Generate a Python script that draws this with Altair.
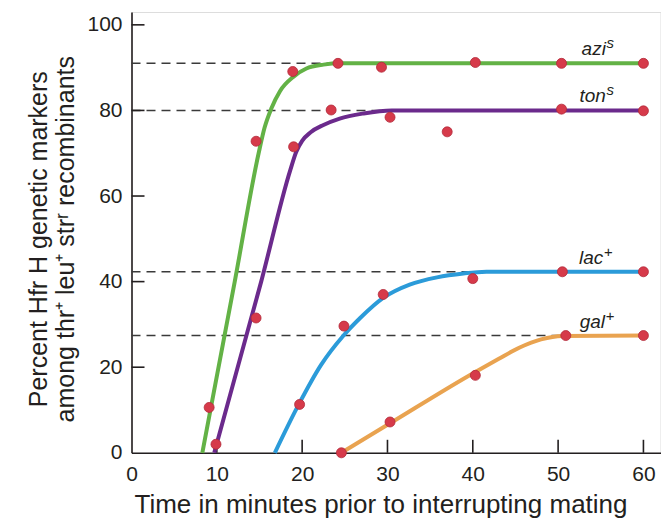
import altair as alt
import pandas as pd

# ---- data ----
series = ["azi", "ton", "lac", "gal"]
series_colors = ["#63b246", "#6b2a8c", "#2b9bd9", "#e9a350"]

# measured points (minutes, percent)
azi_px = [9.1, 14.6, 18.9, 24.2, 29.3, 40.3, 50.4, 60.0]
azi_py = [10.6, 72.8, 89.1, 91.0, 90.1, 91.2, 91.0, 91.0]
ton_px = [9.9, 14.6, 19.0, 23.4, 30.3, 37.0, 50.4, 60.0]
ton_py = [2.0, 31.5, 71.5, 80.1, 78.4, 75.0, 80.3, 79.9]
lac_px = [19.7, 24.9, 29.5, 40.0, 50.5, 60.0]
lac_py = [11.3, 29.6, 37.0, 40.7, 42.3, 42.3]
gal_px = [24.6, 30.3, 40.3, 50.9, 60.0]
gal_py = [0.0, 7.2, 18.1, 27.4, 27.4]

# fitted curves
azi_cx = [8.3, 12.1, 14.9, 15.6, 16.4, 17.4, 19.0, 20.5, 22.5, 24.5, 60.0]
azi_cy = [0.0, 40.0, 70.0, 76.0, 80.5, 84.5, 87.9, 89.8, 90.7, 91.0, 91.0]
ton_cx = [9.7, 15.2, 18.6, 19.3, 20.0, 21.0, 22.5, 24.4, 27.2, 30.5, 60.0]
ton_cy = [0.0, 40.0, 66.0, 70.3, 72.9, 74.9, 76.6, 78.1, 79.3, 80.0, 80.0]
lac_cx = [16.8, 19.6, 22.2, 24.8, 26.8, 29.5, 32.6, 35.8, 38.9, 41.6, 60.0]
lac_cy = [0.0, 11.3, 20.5, 27.3, 31.5, 36.2, 39.3, 41.0, 41.9, 42.3, 42.3]
gal_cx = [24.6, 30.3, 40.3, 43.0, 45.5, 48.0, 50.5, 60.0]
gal_cy = [0.0, 6.9, 18.9, 21.9, 24.6, 26.5, 27.3, 27.4]

# reference (dashed) levels
dash_y = [91.0, 80.0, 42.3, 27.4]
dash_end = [24.5, 30.5, 41.0, 50.5]

# curve labels
label_base = ["azi", "ton", "lac", "gal"]
label_sup = ["s", "s", "+", "+"]
label_x = [55.6, 55.6, 55.3, 55.5]

x_ticks = [0, 10, 20, 30, 40, 50, 60]
y_ticks = [0, 20, 40, 60, 80, 100]

# ---- tables ----
pts = pd.concat([
    pd.DataFrame({"s": n, "x": xs, "y": ys})
    for n, xs, ys in zip(series, [azi_px, ton_px, lac_px, gal_px], [azi_py, ton_py, lac_py, gal_py])
])
curves = pd.concat([
    pd.DataFrame({"s": n, "x": xs, "y": ys, "o": range(len(xs))})
    for n, xs, ys in zip(series, [azi_cx, ton_cx, lac_cx, gal_cx], [azi_cy, ton_cy, lac_cy, gal_cy])
])
dashes = pd.DataFrame({"y": dash_y, "x0": [0] * 4, "x1": dash_end})
labels = pd.DataFrame({"x": label_x, "y": dash_y, "base": label_base, "sup": label_sup})
xt = pd.DataFrame({"v": x_ticks[1:]})
yt = pd.DataFrame({"v": y_ticks[1:]})

W, H = 529, 440.8
FONT = "Liberation Sans"
INK = "#231f20"

xscale = alt.Scale(domain=[0, 62], nice=False, zero=False)
yscale = alt.Scale(domain=[0, 103], nice=False)

xaxis = alt.Axis(values=x_ticks, ticks=False, tickSize=0, grid=False, labelFlush=False,
                 labelFontSize=21, labelPadding=11, labelFont=FONT, labelColor=INK,
                 domainColor=INK, domainWidth=1.6,
                 title="Time in minutes prior to interrupting mating",
                 titleFont=FONT, titleFontSize=26, titleFontWeight="normal", titleColor=INK,
                 titleX=249, titleY=39, titleBaseline="top", titleAlign="center")
yaxis = alt.Axis(values=y_ticks, ticks=False, tickSize=0, grid=False,
                 labelFontSize=21, labelPadding=9.5, labelFont=FONT, labelColor=INK,
                 domainColor=INK, domainWidth=1.6,
                 title=["Percent Hfr H genetic markers", "among thr\u207a leu\u207a str\u02b3 recombinants"],
                 titleFont=FONT, titleFontSize=25, titleFontWeight="normal", titleColor=INK,
                 titleAngle=270, titleAlign="center", titleBaseline="alphabetic",
                 titleX=-84.8, titleY=226.7, titleLineHeight=26.6)

base_x = alt.X("x:Q", scale=xscale, axis=xaxis)
base_y = alt.Y("y:Q", scale=yscale, axis=yaxis)

dash_layer = alt.Chart(dashes).mark_rule(color="#3a3a3a", strokeWidth=1.5, strokeDash=[9, 6]).encode(
    x=alt.X("x0:Q", scale=xscale, axis=xaxis), x2="x1:Q", y=base_y)

line_layer = alt.Chart(curves).mark_line(strokeWidth=4, interpolate="monotone").encode(
    x=base_x, y=base_y, order="o:Q",
    color=alt.Color("s:N", scale=alt.Scale(domain=series, range=series_colors), legend=None))

pt_layer = alt.Chart(pts).mark_circle(size=100, color="#d63a4a", opacity=1,
                                      stroke="#b32a3a", strokeWidth=0.8).encode(x=base_x, y=base_y)

lab_layer = alt.Chart(labels).mark_text(font=FONT, fontSize=19, fontStyle="italic", color=INK,
                                         align="right", baseline="alphabetic", dy=-8).encode(
    x=base_x, y=base_y, text="base:N")
sup_layer = alt.Chart(labels).mark_text(font=FONT, fontSize=15, fontStyle="italic", color=INK,
                                         align="left", baseline="alphabetic", dy=-15, dx=0.5).encode(
    x=base_x, y=base_y, text="sup:N")

ytick_layer = alt.Chart(yt).mark_rule(color=INK, strokeWidth=1.6).encode(
    y=alt.Y("v:Q", scale=yscale, axis=yaxis), x=alt.value(0), x2=alt.value(13))
xtick_layer = alt.Chart(xt).mark_rule(color=INK, strokeWidth=1.6).encode(
    x=alt.X("v:Q", scale=xscale, axis=xaxis), y=alt.value(H), y2=alt.value(H - 13))

chart = alt.layer(dash_layer, xtick_layer, ytick_layer, line_layer, pt_layer, lab_layer, sup_layer).properties(
    width=W, height=H,
    autosize=alt.AutoSizeParams(type="none"),
    padding={"left": 123.5, "top": 4, "right": 0, "bottom": 65},
).configure_view(stroke=None).configure(background="white")

chart.save("out.html", embed_options={"renderer": "svg", "actions": False})
